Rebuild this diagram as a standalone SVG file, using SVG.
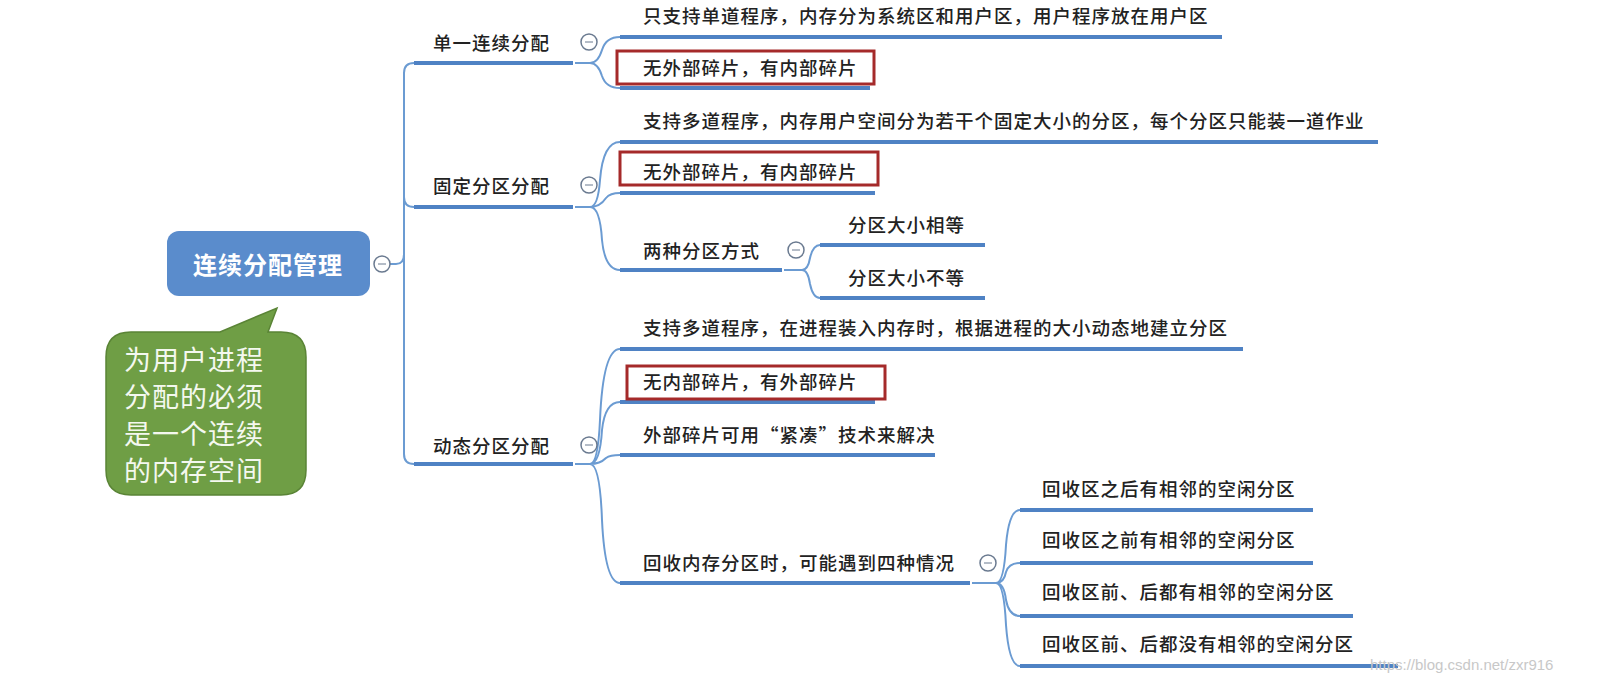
<svg xmlns="http://www.w3.org/2000/svg" width="1601" height="696" viewBox="0 0 1601 696">
<style>
.t{font-family:"Noto Sans CJK SC","Noto Sans",sans-serif;font-size:18.5px;letter-spacing:1px;font-weight:500;fill:#222}
.u{stroke:#4f82c4;stroke-width:4;fill:none}
.c{stroke:#6b9bd2;stroke-width:2;fill:none}
.b{fill:#fff;stroke:#6a7a90;stroke-width:1.5}
.r{fill:none;stroke:#a52a2a;stroke-width:3}
</style>
<rect width="1601" height="696" fill="#fff"/>
<g id="connectors">
<path class="c" d="M390 264 H396 Q404 264 404 254 V73 Q404 63 414 63 M404 264 V197 Q404 207 414 207 M404 264 V454 Q404 464 414 464"/>
<path class="c" d="M575 63 H590 Q598 63 602 50 Q606 37 620 37 M590 63 Q598 63 602 76 Q606 88 620 88"/>
<path class="c" d="M575 207 H590 Q598 207 600 180 Q603 142 620 142 M590 207 Q600 207 606 198 Q610 193 620 193 M590 207 Q600 207 602 240 Q605 270 620 270"/>
<path class="c" d="M784 270 H802 Q808 270 810 258 Q813 245 820 245 M802 270 Q808 270 810 284 Q813 298 820 298"/>
<path class="c" d="M575 464 H590 Q598 464 600 420 Q603 349 620 349 M590 464 Q600 464 602 430 Q605 402 620 402 M590 464 Q600 464 606 458 Q610 455 620 455 M590 464 Q600 464 602 520 Q605 583 620 583"/>
<path class="c" d="M972 583 H996 Q1004 583 1006 545 Q1009 510 1020 510 M996 583 Q1004 583 1006 572 Q1009 563 1020 563 M996 583 Q1004 583 1006 600 Q1009 616 1020 616 M996 583 Q1004 583 1006 625 Q1009 666 1020 666"/>
</g>
<g id="root">
<rect x="167" y="231" width="203" height="65" rx="12" fill="#5a8ccc"/>
<text x="268" y="274" text-anchor="middle" style="font-family:'Noto Sans CJK SC',sans-serif;font-size:24px;letter-spacing:1px;font-weight:bold;fill:#fff">连续分配管理</text>
<circle class="b" cx="382" cy="264" r="8"/><line x1="378" y1="264" x2="386" y2="264" stroke="#6a7a90"/>
</g>
<g id="note">
<path d="M131 332 H220 L277 308 L268 332 H281 Q306 332 306 357 V470 Q306 495 281 495 H131 Q106 495 106 470 V357 Q106 332 131 332 Z" fill="#6f9e45" stroke="#5a8436" stroke-width="1.5"/>
<g style="font-family:'Noto Sans CJK SC',sans-serif;font-size:27px;letter-spacing:1px;fill:#f4f8ef">
<text x="124" y="370">为用户进程</text><text x="124" y="407">分配的必须</text><text x="124" y="444">是一个连续</text><text x="124" y="481">的内存空间</text>
</g>
</g>
<g id="n1"><line class="u" x1="414" y1="63" x2="573" y2="63"/><text class="t" x="433" y="50">单一连续分配</text>
<circle class="b" cx="589" cy="42" r="8"/><line x1="585" y1="42" x2="593" y2="42" stroke="#6a7a90"/></g>
<g id="n1a"><line class="u" x1="620" y1="37" x2="1222" y2="37"/><text class="t" x="643" y="23">只支持单道程序，内存分为系统区和用户区，用户程序放在用户区</text></g>
<g id="n1b"><line class="u" x1="620" y1="88" x2="870" y2="88"/><rect class="r" x="617" y="51" width="257" height="33"/><text class="t" x="643" y="75">无外部碎片，有内部碎片</text></g>
<g id="n2"><line class="u" x1="414" y1="207" x2="573" y2="207"/><text class="t" x="433" y="193">固定分区分配</text>
<circle class="b" cx="589" cy="185" r="8"/><line x1="585" y1="185" x2="593" y2="185" stroke="#6a7a90"/></g>
<g id="n2a"><line class="u" x1="620" y1="142" x2="1378" y2="142"/><text class="t" x="643" y="128">支持多道程序，内存用户空间分为若干个固定大小的分区，每个分区只能装一道作业</text></g>
<g id="n2b"><line class="u" x1="620" y1="193" x2="875" y2="193"/><rect class="r" x="620" y="152" width="258" height="33"/><text class="t" x="643" y="179">无外部碎片，有内部碎片</text></g>
<g id="n2c"><line class="u" x1="620" y1="270" x2="782" y2="270"/><text class="t" x="643" y="258">两种分区方式</text>
<circle class="b" cx="796" cy="250" r="8"/><line x1="792" y1="250" x2="800" y2="250" stroke="#6a7a90"/></g>
<g id="n2c1"><line class="u" x1="820" y1="245" x2="985" y2="245"/><text class="t" x="848" y="232">分区大小相等</text></g>
<g id="n2c2"><line class="u" x1="820" y1="298" x2="985" y2="298"/><text class="t" x="848" y="285">分区大小不等</text></g>
<g id="n3"><line class="u" x1="414" y1="464" x2="573" y2="464"/><text class="t" x="433" y="453">动态分区分配</text>
<circle class="b" cx="589" cy="445" r="8"/><line x1="585" y1="445" x2="593" y2="445" stroke="#6a7a90"/></g>
<g id="n3a"><line class="u" x1="620" y1="349" x2="1243" y2="349"/><text class="t" x="643" y="335">支持多道程序，在进程装入内存时，根据进程的大小动态地建立分区</text></g>
<g id="n3b"><line class="u" x1="620" y1="402" x2="875" y2="402"/><rect class="r" x="627" y="366" width="258" height="33"/><text class="t" x="643" y="389">无内部碎片，有外部碎片</text></g>
<g id="n3c"><line class="u" x1="620" y1="455" x2="935" y2="455"/><text class="t" x="643" y="442">外部碎片可用“紧凑”技术来解决</text></g>
<g id="n3d"><line class="u" x1="620" y1="583" x2="970" y2="583"/><text class="t" x="643" y="570">回收内存分区时，可能遇到四种情况</text>
<circle class="b" cx="988" cy="563" r="8"/><line x1="984" y1="563" x2="992" y2="563" stroke="#6a7a90"/></g>
<g id="n3d1"><line class="u" x1="1020" y1="510" x2="1313" y2="510"/><text class="t" x="1042" y="496">回收区之后有相邻的空闲分区</text></g>
<g id="n3d2"><line class="u" x1="1020" y1="563" x2="1313" y2="563"/><text class="t" x="1042" y="547">回收区之前有相邻的空闲分区</text></g>
<g id="n3d3"><line class="u" x1="1020" y1="616" x2="1353" y2="616"/><text class="t" x="1042" y="599">回收区前、后都有相邻的空闲分区</text></g>
<g id="n3d4"><line class="u" x1="1020" y1="666" x2="1398" y2="666"/><text class="t" x="1042" y="651">回收区前、后都没有相邻的空闲分区</text></g>
<text x="1370" y="670" style="font-family:'Liberation Sans',sans-serif;font-size:15px;fill:#c8c8c8">https://blog.csdn.net/zxr916</text>
</svg>
